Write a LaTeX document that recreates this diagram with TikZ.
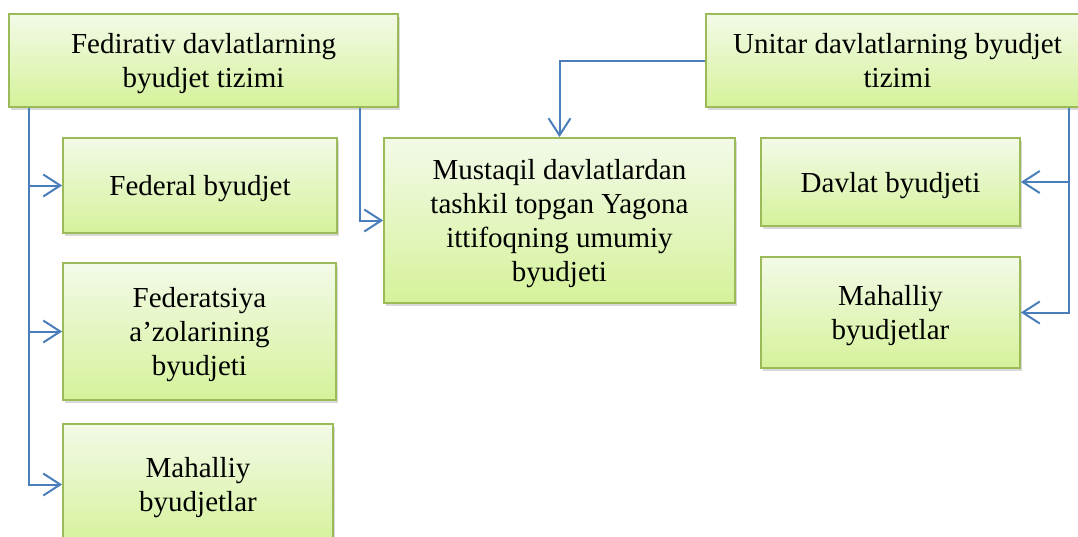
\documentclass[tikz,border=0pt]{standalone}
\usepackage{fontspec}
\setmainfont{Liberation Serif}
\usetikzlibrary{arrows.meta,shadows}
\definecolor{boxline}{HTML}{9BBB59}
\definecolor{boxtop}{HTML}{F3FAE8}
\definecolor{boxbot}{HTML}{D5F29A}
\definecolor{linkblue}{HTML}{4A7EBB}

\begin{document}
\begin{tikzpicture}[x=1pt,y=-1pt,
            box/.style={draw=boxline,line width=1.8pt,top color=boxtop,bottom color=boxbot,
                drop shadow={shadow xshift=2pt,shadow yshift=-3pt,opacity=0.3},
                align=center,inner sep=0pt,text depth=0pt,font=\fontsize{29}{34}\selectfont},
            link/.style={draw=linkblue,line width=2pt,-{Straight Barb[length=17pt,width=22pt,line width=2pt]}}]
            \useasboundingbox (0,0) rectangle (1078,536);

            \node[box,minimum width=389pt,minimum height=93pt] (fed) at (203.5,60.5){Fedirativ davlatlarning\\byudjet tizimi};
            \node[box,minimum width=274pt,minimum height=95pt] (federal) at (200,185.5){Federal byudjet};
            \node[box,minimum width=273pt,minimum height=137pt] (federatsiya) at (199.5,331.5){Federatsiya\\a’zolarining\\byudjeti};
            \node[box,minimum width=270pt,minimum height=121pt] (mahalliyf) at (198,484.5){Mahalliy\\byudjetlar};

            \node[box,minimum width=351pt,minimum height=165pt] (mustaqil) at (559.5,220.5){Mustaqil davlatlardan\\tashkil topgan Yagona\\ittifoqning umumiy\\byudjeti};

            \node[box,minimum width=383pt,minimum height=93pt] (unitar) at (897.5,60.5){Unitar davlatlarning byudjet\\tizimi};
            \node[box,minimum width=259pt,minimum height=88pt] (davlat) at (890.5,182){Davlat byudjeti};
            \node[box,minimum width=259pt,minimum height=111pt] (mahalliyu) at (890.5,312.5){Mahalliy\\byudjetlar};

            \coordinate (fedl) at ([xshift=21pt]fed.south west);
            \coordinate (fedr) at ([xshift=-39pt]fed.south east);
            \coordinate (unir) at ([xshift=-21pt]unitar.south east);

            \foreach \n in {federal,federatsiya,mahalliyf}{
                \draw[link] (fedl) |- (\n);
            }
            \draw[link] (fedr) |- (mustaqil);
            \draw[link] (unitar.west) -| (mustaqil.north);
            \foreach \n in {davlat,mahalliyu}{
                \draw[link] (unir) |- (\n);
            }
        \end{tikzpicture}
\end{document}
